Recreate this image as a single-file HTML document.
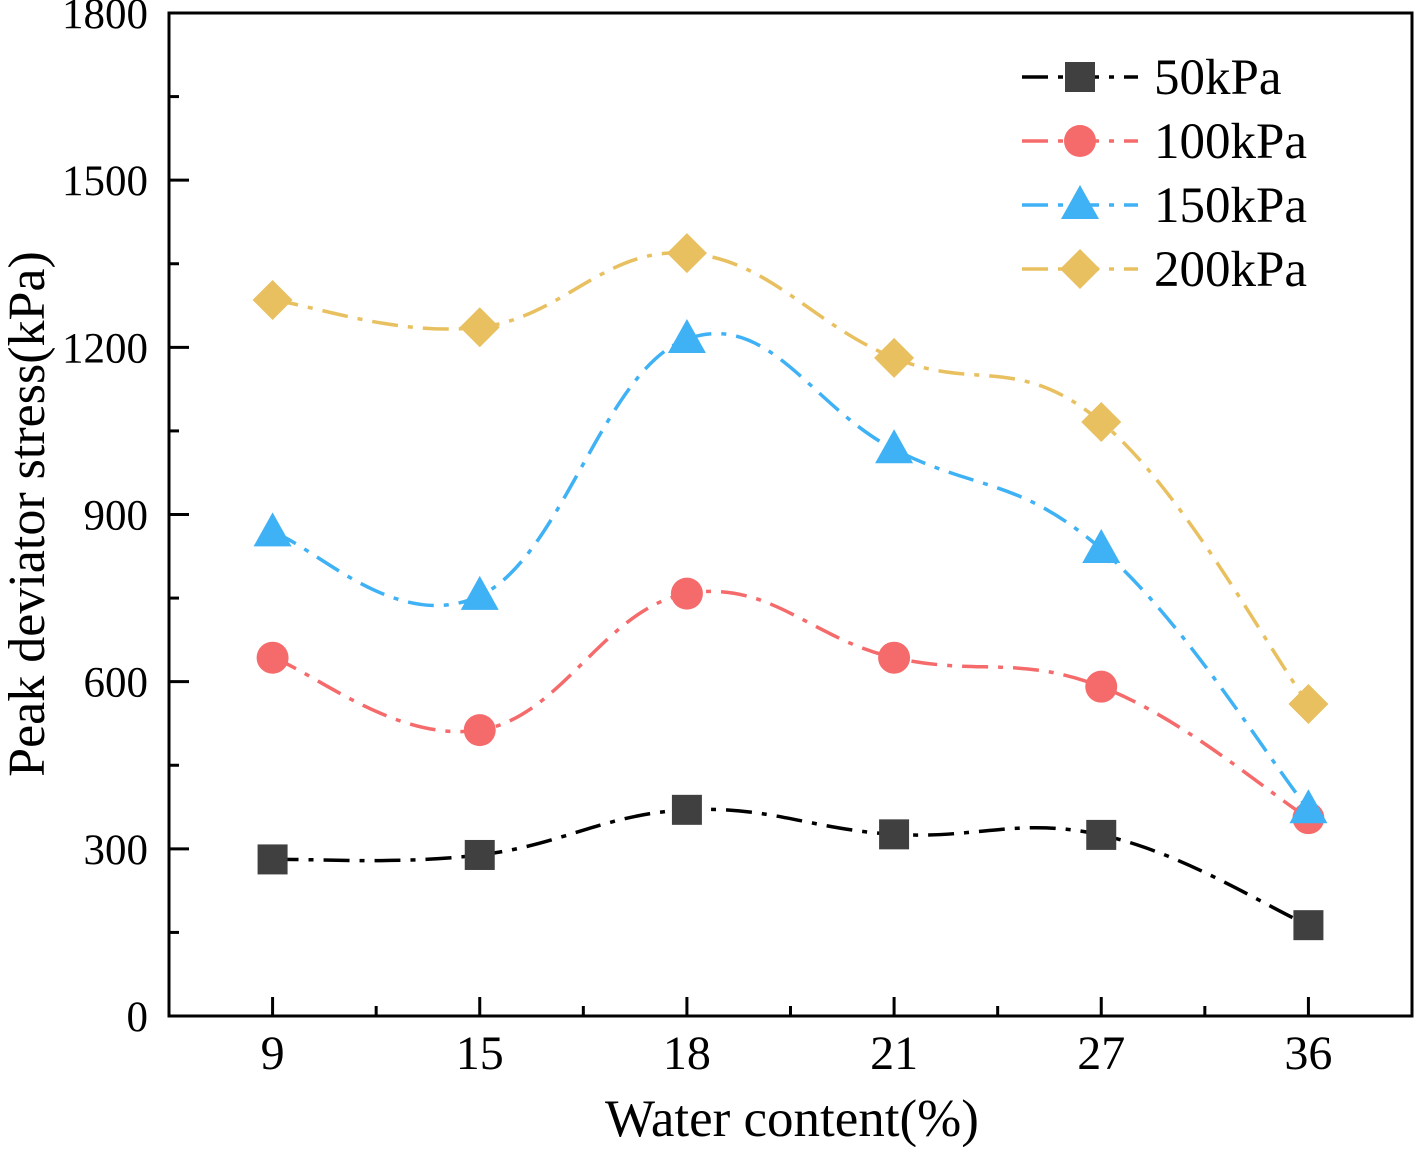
<!DOCTYPE html>
<html><head><meta charset="utf-8"><style>
body{margin:0;background:#fff}
svg text{font-family:"Liberation Serif",serif;fill:#000}
</style></head><body>
<svg id="chart" width="1417" height="1147" xmlns="http://www.w3.org/2000/svg"></svg>
<script>
const categories=["9","15","18","21","27","36"];
const s50=[281,289,370,326,325,163];
const s100=[643,513,758,643,591,355];
const s150=[868,754,1215,1017,838,371];
const s200=[1285,1236,1369,1181,1066,560];
const yTicks=[0,300,600,900,1200,1500,1800];
const seriesNames=["50kPa","100kPa","150kPa","200kPa"];
const NS="http://www.w3.org/2000/svg";
const svg=document.getElementById('chart');
const L=169,R=1412,T=13,B=1016;
const xs=i=>L+(i+0.5)*(R-L)/6;
const ys=v=>B-v/1800*(B-T);
function el(t,a,p){const e=document.createElementNS(NS,t);for(const k in a)e.setAttribute(k,a[k]);(p||svg).appendChild(e);return e;}
const fr=el('rect',{x:L,y:T,width:R-L,height:B-T,fill:'none',stroke:'#000','stroke-width':3});


yTicks.forEach((v,i)=>{
 const tk=el('line',{x1:L,x2:L+20,y1:ys(v),y2:ys(v),stroke:'#000','stroke-width':3});
 
 
 if(i<yTicks.length-1){const m=el('line',{x1:L,x2:L+10,y1:ys(v+150),y2:ys(v+150),stroke:'#000','stroke-width':3});
 
 }
 const t=el('text',{x:148,y:ys(v)+15,'text-anchor':'end','font-size':43});t.textContent=v;
 
 
});
categories.forEach((c,i)=>{
 const tk=el('line',{x1:xs(i),x2:xs(i),y1:B,y2:B-19,stroke:'#000','stroke-width':3});
 
 
 if(i<5){const m=el('line',{x1:xs(i+0.5),x2:xs(i+0.5),y1:B,y2:B-10,stroke:'#000','stroke-width':3});
 
 }
 const t=el('text',{x:xs(i),y:1069,'text-anchor':'middle','font-size':48});t.textContent=c;
 
 
});
const xt=el('text',{x:792,y:1136,'text-anchor':'middle','font-size':53});xt.textContent="Water content(%)";


const yt=el('text',{x:0,y:0,'text-anchor':'middle','font-size':52,transform:'translate(44,514) rotate(-90)'});yt.textContent="Peak deviator stress(kPa)";


function pathFor(vals){
 const p=vals.map((v,i)=>[xs(i),ys(v)]);
 let d=`M${p[0][0]},${p[0][1]}`;
 for(let i=0;i<p.length-1;i++){
  const p0=p[i-1]||p[i],p1=p[i],p2=p[i+1],p3=p[i+2]||p[i+1];
  const c1=[p1[0]+(p2[0]-p0[0])/5,p1[1]+(p2[1]-p0[1])/5];
  const c2=[p2[0]-(p3[0]-p1[0])/5,p2[1]-(p3[1]-p1[1])/5];
  d+=` C${c1[0]},${c1[1]} ${c2[0]},${c2[1]} ${p2[0]},${p2[1]}`;
 }
 return d;
}
function marker(type,x,y,color,g){
 if(type==='sq')return el('rect',{x:x-15,y:y-15,width:30,height:30,fill:color},g);
 if(type==='ci')return el('circle',{cx:x,cy:y,r:16,fill:color},g);
 if(type==='tr')return el('polygon',{points:`${x},${y-20} ${x+19},${y+14} ${x-19},${y+14}`,fill:color},g);
 return el('polygon',{points:`${x},${y-20} ${x+20},${y} ${x},${y+20} ${x-20},${y}`,fill:color},g);
}
const series=[[s50,'#404040','sq','#000'],[s100,'#f56b6b','ci','#f56b6b'],[s150,'#3fb1f5','tr','#3fb1f5'],[s200,'#e8c060','di','#e8c060']];
series.forEach(([vals,col,mk,lc],k)=>{
 const g=el('g',{});
 
 
 const ln=el('path',{d:pathFor(vals),fill:'none',stroke:lc,'stroke-width':3.5,'stroke-dasharray':'26,10,5,10'},g);
 
 
 vals.forEach((v,i)=>{const m=marker(mk,xs(i),ys(v),col,g);
  
  });
 const ly=77+k*64;
 const lg=el('g',{});
 
 
 el('line',{x1:1022,x2:1138,y1:ly,y2:ly,stroke:lc,'stroke-width':3.5,'stroke-dasharray':'26,10,5,10'},lg);
 marker(mk,1080,ly,col,lg);
 const t=el('text',{x:1154,y:ly+17,'font-size':51},lg);t.textContent=seriesNames[k];
});
</script>
</body></html>
